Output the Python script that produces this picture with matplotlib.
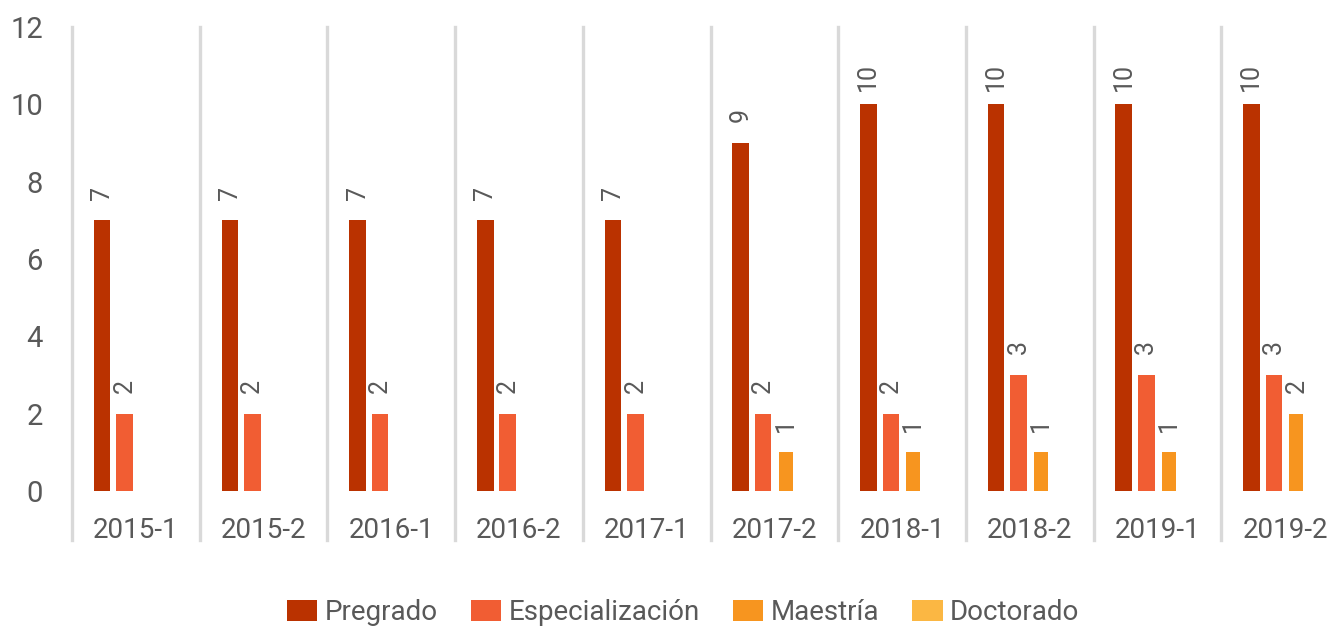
import matplotlib
matplotlib.use("Agg")
import matplotlib.pyplot as plt
from matplotlib.patches import Patch
import numpy as np

categories = ["2015-1", "2015-2", "2016-1", "2016-2", "2017-1",
              "2017-2", "2018-1", "2018-2", "2019-1", "2019-2"]
series_names = ["Pregrado", "Especialización", "Maestría", "Doctorado"]
pregrado = [7, 7, 7, 7, 7, 9, 10, 10, 10, 10]
especializacion = [2, 2, 2, 2, 2, 2, 2, 3, 3, 3]
maestria = [0, 0, 0, 0, 0, 1, 1, 1, 1, 2]
doctorado = [0, 0, 0, 0, 0, 0, 0, 0, 0, 0]
colors = ["#BA3200", "#F15D33", "#F7951F", "#FBB743"]
yticks = [0, 2, 4, 6, 8, 10, 12]

plt.rcParams['font.family'] = ['Roboto', 'DejaVu Sans']
txt = "#595959"

fig = plt.figure(figsize=(13.44, 6.3), dpi=100)
W, H = 1344, 630
left, right, top, bottom = 72, 1349, 27, 491
ax = fig.add_axes([left / W, 1 - bottom / H, (right - left) / W, (bottom - top) / H])

x = np.arange(len(categories))
step = 0.176
width = 0.13
all_series = [pregrado, especializacion, maestria, doctorado]
for i, (vals, c) in enumerate(zip(all_series, colors)):
    off = (i - 1.5) * step
    w = width if i != 2 else width * 0.85
    for xi, v in zip(x, vals):
        if v <= 0:
            continue
        ax.bar(xi + off, v, width=w, color=c, zorder=3)
        ax.annotate(str(v), (xi + off, v), xytext=(0, 20), textcoords="offset points",
                    rotation=90, ha="center", va="center", fontsize=18, color=txt)

ax.set_xlim(-0.5, len(categories) - 0.5)
ax.set_ylim(0, 12)
for k in range(len(categories) + 1):
    ax.axvline(k - 0.5, ymin=-0.105, ymax=1.0, color="#D9D9D9", lw=2.4,
               clip_on=False, zorder=1)

for s in ax.spines.values():
    s.set_visible(False)
ax.set_yticks(yticks)
ax.set_yticklabels([str(t) for t in yticks], fontsize=21, color=txt)
ax.tick_params(axis="y", length=0, pad=21)
ax.set_xticks(x)
ax.set_xticklabels(categories, fontsize=20, color=txt)
ax.tick_params(axis="x", length=0, pad=19)

handles = [Patch(facecolor=c, label=n) for c, n in zip(colors, series_names)]
fig.legend(handles=handles, loc="center", bbox_to_anchor=(683 / W, 1 - 613 / H),
           ncol=4, frameon=False, fontsize=20, labelcolor=txt,
           handlelength=1.1, handleheight=0.8, handletextpad=0.25, columnspacing=1.2)

fig.savefig("out.png", dpi=100)
